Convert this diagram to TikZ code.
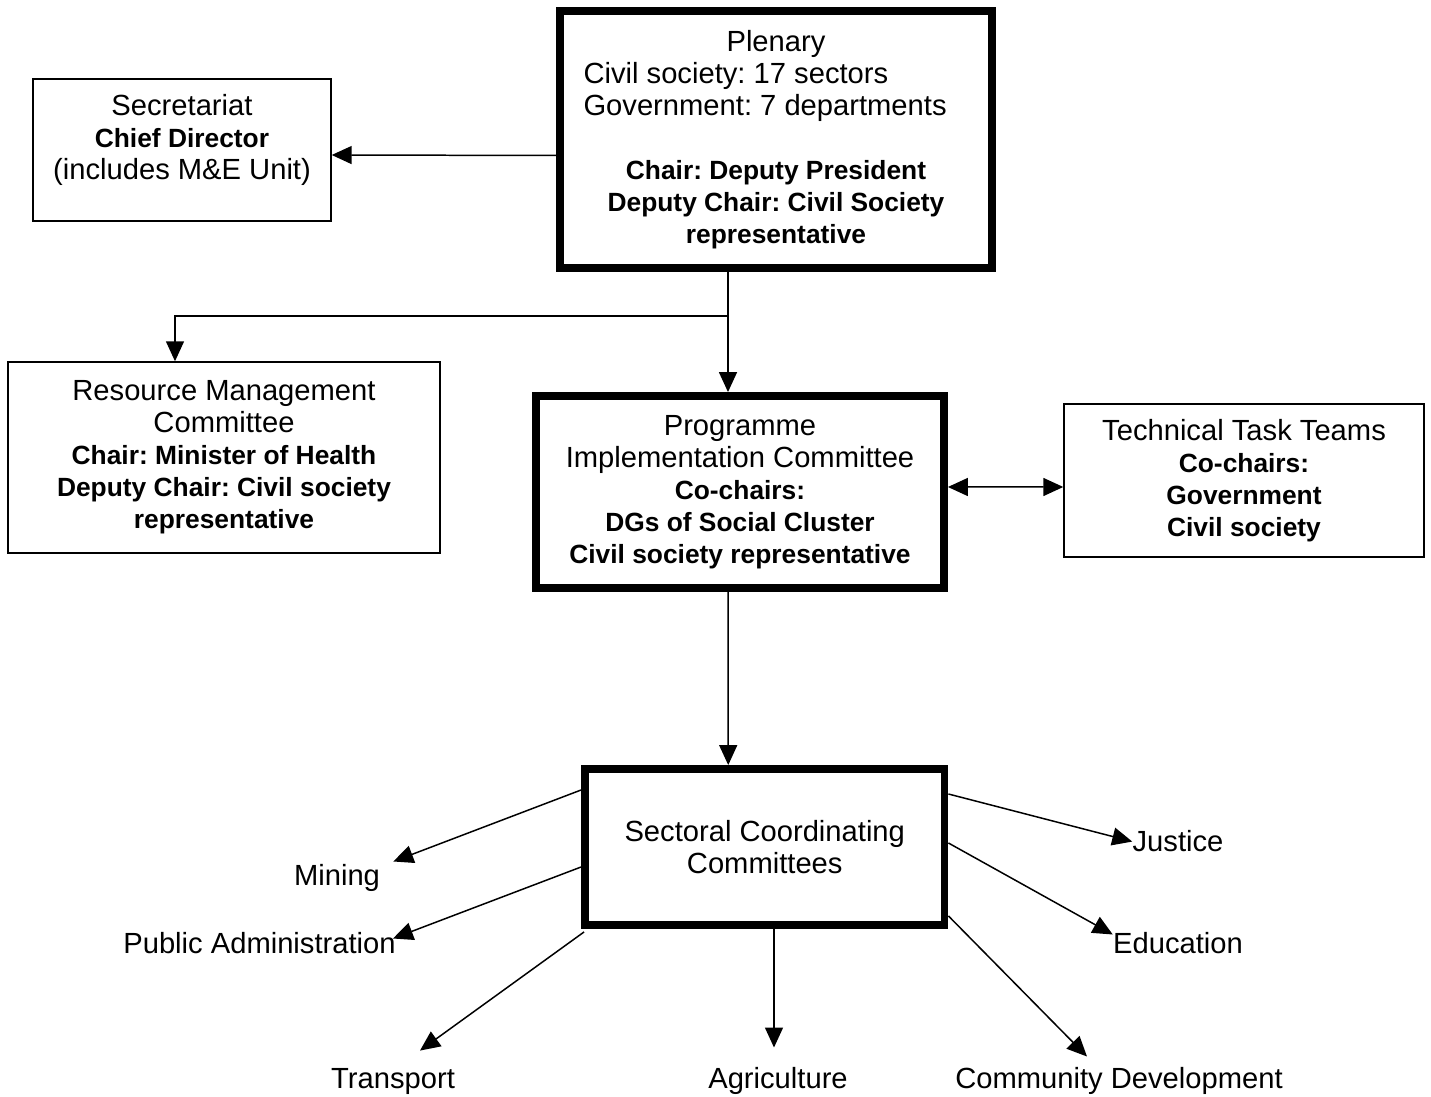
\documentclass[tikz,border=0pt]{standalone}
\usepackage{fontspec}
\setmainfont{Liberation Sans}
\usetikzlibrary{arrows.meta}
\frenchspacing
\newcommand{\bs}[1]{{\fontsize{15}{18.2}\selectfont\bfseries #1}}

\begin{document}
\begin{tikzpicture}[
  x=0.02cm, y=-0.02cm,
  >={Triangle[length=0.4cm, width=0.36cm]},
  thinbox/.style={rectangle, draw, line width=0.85pt, align=center,
    font=\fontsize{16.6}{18.2}\selectfont},
  thickbox/.style={thinbox, line width=4.5pt},
  sector/.style={inner sep=0pt, anchor=base, font=\fontsize{16.6}{18.2}\selectfont},
  flow/.style={->, line width=0.85pt},
  twoway/.style={<->, line width=0.85pt},
]
  \useasboundingbox (0,0) rectangle (1431,1097);

  \node[thickbox, minimum width=8.64cm, minimum height=5.14cm] (plen) at (776,139.5)
    {Plenary\\
     \makebox[7.7cm][l]{Civil society: 17 sectors}\\
     \makebox[7.7cm][l]{Government: 7 departments}\\[18.2pt]
     \bs{Chair: Deputy President}\\
     \bs{Deputy Chair: Civil Society}\\
     \bs{representative}};
  \node[thinbox, minimum width=5.96cm, minimum height=2.84cm] (sec) at (182,150)
    {Secretariat\\ \bs{Chief Director}\\ (includes M\&E Unit)\\[-0.1cm]\mbox{}};
  \node[thinbox, minimum width=8.64cm, minimum height=3.82cm] (rmc) at (224,457.5)
    {Resource Management\\ Committee\\ \bs{Chair: Minister of Health}\\
     \bs{Deputy Chair: Civil society}\\ \bs{representative}};
  \node[thickbox, minimum width=8.16cm, minimum height=3.84cm] (pic) at (740,492)
    {Programme\\ Implementation Committee\\ \bs{Co-chairs:}\\
     \bs{DGs of Social Cluster}\\ \bs{Civil society representative}};
  \node[thinbox, minimum width=7.2cm, minimum height=3.06cm] (ttt) at (1244,480.5)
    {Technical Task Teams\\ \bs{Co-chairs:}\\ \bs{Government}\\ \bs{Civil society}};
  \node[thickbox, minimum width=7.19cm, minimum height=3.12cm] (scc) at (764.75,847)
    {Sectoral Coordinating\\ Committees};

  % sectors
  \node[sector] (mining) at (337,886) {Mining};
  \node[sector] (pubadmin) at (259.5,953) {Public Administration};
  \node[sector] (transport) at (393,1088) {Transport};
  \node[sector] (agri) at (778,1088) {Agriculture};
  \node[sector] (commdev) at (1119,1088) {Community Development};
  \node[sector] (education) at (1178,953) {Education};
  \node[sector] (justice) at (1178,852) {Justice};

  % links between committees
  \draw[flow] ([shift={(0,16)}]plen.west) -- ([shift={(0,5)}]sec.east);
  \coordinate (split) at ([shift={(-48,44)}]plen.south);
  \draw[flow] ([shift={(-48,0)}]plen.south) -- ([shift={(-12,0)}]pic.north);
  \draw[flow] (split) -| ([shift={(-49,0)}]rmc.north);
  \draw[twoway] ([shift={(0,-5)}]pic.east) -- ([shift={(0,6.5)}]ttt.west);
  \draw[flow] ([shift={(-12,0)}]pic.south) -- ([shift={(-36.5,0)}]scc.north);

  % links to sectors
  \coordinate (agritip) at ([shift={(-4,-19)}]agri.north);
  \draw[flow] ([shift={(0,-57)}]scc.west) -- ([shift={(13,-3)}]mining.north east);
  \draw[flow] ([shift={(0,20)}]scc.west) -- ([shift={(-3,7)}]pubadmin.north east);
  \draw[flow] ([shift={(3,3)}]scc.south west) -- ([shift={(27,-17)}]transport.north);
  \draw[flow] (scc.south -| agritip) -- (agritip);
  \draw[flow] ([shift={(0,-13)}]scc.south east) -- ([shift={(-32,-10)}]commdev.north);
  \draw[flow] ([shift={(0,-4)}]scc.east) -- ([shift={(0,3)}]education.north west);
  \draw[flow] ([shift={(0,-53)}]scc.east) -- (justice.west);
\end{tikzpicture}
\end{document}
